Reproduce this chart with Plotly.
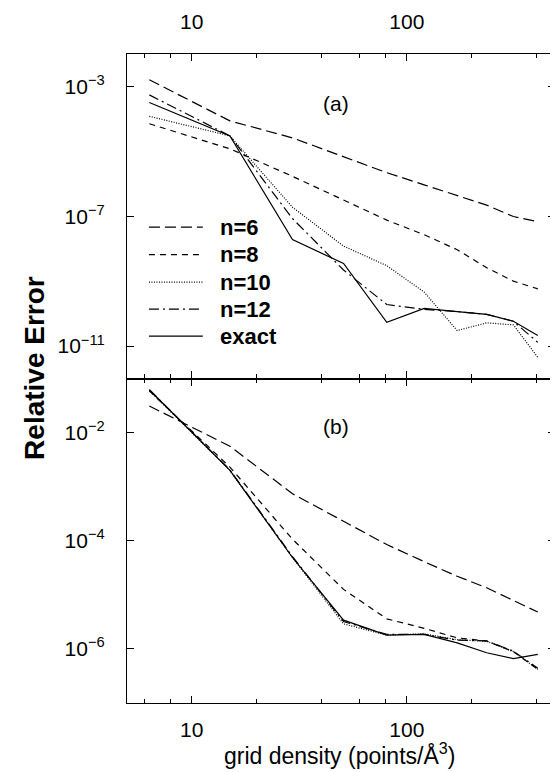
import plotly.graph_objects as go

# grid densities (points/Å^3)
density = [6.35, 15.05, 29.4, 50.8, 80.7, 120.4, 171.5, 235.2, 313.0, 406.4]

# panel (a)
a_n6 = [1.6e-3, 8.7e-5, 2.6e-5, 6.8e-6, 2.2e-6, 9.3e-7, 4.4e-7, 2.2e-7, 9.8e-8, 6.8e-8]
a_n8 = [7.1e-5, 1.2e-5, 1.7e-6, 3.2e-7, 7.6e-8, 2.7e-8, 9.3e-9, 2.6e-9, 1.0e-9, 5.8e-10]
a_n10 = [1.2e-4, 3.0e-5, 1.9e-7, 1.2e-8, 3.0e-9, 4.6e-10, 3.0e-11, 5.2e-11, 4.5e-11, 4.5e-12]
a_n12 = [5.5e-4, 3.0e-5, 8.5e-8, 2.2e-9, 1.9e-10, 1.35e-10, 1.15e-10, 9.5e-11, 5.8e-11, 1.3e-11]
a_exact = [3.2e-4, 3.0e-5, 1.9e-8, 3.5e-9, 5.4e-11, 1.45e-10, 1.15e-10, 9.5e-11, 5.8e-11, 2.1e-11]

# panel (b)
b_n6 = [3.1e-2, 5.6e-3, 7.4e-4, 2.3e-4, 8.5e-5, 4.1e-5, 2.2e-5, 1.35e-5, 7.8e-6, 4.8e-6]
b_n8 = [5.9e-2, 2.3e-3, 1.07e-4, 1.26e-5, 3.6e-6, 2.4e-6, 1.6e-6, 1.4e-6, 8.9e-7, 4.2e-7]
b_n10 = [6.0e-2, 2.0e-3, 4.9e-5, 2.9e-6, 1.8e-6, 1.9e-6, 1.48e-6, 1.38e-6, 8.9e-7, 4.2e-7]
b_n12 = [6.2e-2, 2.05e-3, 5.1e-5, 3.2e-6, 1.86e-6, 1.86e-6, 1.45e-6, 1.41e-6, 9.1e-7, 4.4e-7]
b_exact = [6.2e-2, 2.0e-3, 4.9e-5, 3.4e-6, 1.8e-6, 1.86e-6, 1.29e-6, 8.5e-7, 6.6e-7, 7.9e-7]

names = ["n=6", "n=8", "n=10", "n=12", "exact"]
dashes = ["11px,5px", "6px,5px", "1px,1.5px", "10px,4px,2px,4px", "solid"]

x_ticks = [10, 100]
x_ticktext = ["10", "100"]
x_minor = [6, 8, 20, 40, 60, 80, 200, 400]
ya_ticks = [1e-3, 1e-7, 1e-11]
ya_text = ["10<sup>−3</sup>", "10<sup>−7</sup>", "10<sup>−11</sup>"]
yb_ticks = [1e-2, 1e-4, 1e-6]
yb_text = ["10<sup>−2</sup>", "10<sup>−4</sup>", "10<sup>−6</sup>"]

FONT = "Liberation Sans, Arial, Helvetica, sans-serif"

# the page body has an 8px margin, so the figure is 8px smaller than the window
OFF = 8
W, H = 550, 764
ML, MR, MT, MB = 119, 2, 35, 69
PW, PH = W - ML - MR, H - MT - MB


def px_x(p):
    # screen pixel -> paper x
    return (p - OFF - ML) / PW


def px_y(p):
    # screen pixel -> paper y
    return (H - MB - (p - OFF)) / PH


fig = go.Figure()
for name, dash, ys in zip(names, dashes, [a_n6, a_n8, a_n10, a_n12, a_exact]):
    fig.add_trace(go.Scatter(x=density, y=ys, mode="lines", name=name,
                             line=dict(color="black", width=1.2, dash=dash),
                             xaxis="x2", yaxis="y2", showlegend=False))
for name, dash, ys in zip(names, dashes, [b_n6, b_n8, b_n10, b_n12, b_exact]):
    fig.add_trace(go.Scatter(x=density, y=ys, mode="lines", name=name,
                             line=dict(color="black", width=1.2, dash=dash),
                             xaxis="x", yaxis="y", showlegend=False))

axis_common = dict(showline=True, linecolor="black", linewidth=1.3, mirror="ticks",
                   ticks="inside", tickcolor="black", tickwidth=1.2, showgrid=False,
                   zeroline=False, tickfont=dict(family=FONT, size=21, color="black"))
xrange = [0.699, 2.689]
minor = dict(tickvals=x_minor, ticks="inside", ticklen=4, tickcolor="black",
             tickwidth=1.1, showgrid=False)

# manual legend (panel a, lower left)
legend_rows = [219, 247, 275, 302.5, 330]
shapes = []
annotations = []
for name, dash, ry in zip(names, dashes, legend_rows):
    shapes.append(dict(type="line", xref="paper", yref="paper",
                       x0=px_x(149), x1=px_x(203), y0=px_y(ry), y1=px_y(ry),
                       line=dict(color="black", width=1.2, dash=dash)))
    annotations.append(dict(text="<b>%s</b>" % name, x=px_x(218), y=px_y(ry),
                            xref="paper", yref="paper", xanchor="left", yanchor="middle",
                            showarrow=False,
                            font=dict(family=FONT, size=22, color="black")))

annotations += [
    dict(text="(a)", x=px_x(336), y=px_y(93), xref="paper", yref="paper",
         xanchor="center", yanchor="middle", showarrow=False,
         font=dict(family=FONT, size=21, color="black")),
    dict(text="(b)", x=px_x(336), y=px_y(422), xref="paper", yref="paper",
         xanchor="center", yanchor="middle", showarrow=False,
         font=dict(family=FONT, size=21, color="black")),
    dict(text="<b>Relative Error</b>", x=px_x(34), y=px_y(362), xref="paper", yref="paper",
         xanchor="center", yanchor="middle", textangle=-90, showarrow=False,
         font=dict(family=FONT, size=28, color="black")),
    dict(text="grid density (points/Å<sup>3</sup>)", x=px_x(340), y=px_y(755),
         xref="paper", yref="paper", xanchor="center", yanchor="middle", showarrow=False,
         font=dict(family=FONT, size=23, color="black")),
]

fig.update_layout(
    width=W, height=H,
    margin=dict(l=ML, r=MR, t=MT, b=MB),
    paper_bgcolor="white", plot_bgcolor="white",
    font=dict(family=FONT, color="black"),
    xaxis=dict(type="log", range=xrange, domain=[0, 1], anchor="y",
               tickvals=x_ticks, ticktext=x_ticktext, ticklen=7, minor=minor,
               ticklabelstandoff=8, **axis_common),
    xaxis2=dict(type="log", range=xrange, domain=[0, 1], anchor="y2", side="top",
                tickvals=x_ticks, ticktext=x_ticktext, ticklen=7, minor=minor,
                ticklabelstandoff=15, matches="x", **axis_common),
    yaxis=dict(type="log", range=[-7, -1], domain=[0, 0.5], anchor="x",
               tickvals=yb_ticks, ticktext=yb_text, ticklen=7,
               ticklabelstandoff=17, **axis_common),
    yaxis2=dict(type="log", range=[-12, -2], domain=[0.5, 1], anchor="x2",
                tickvals=ya_ticks, ticktext=ya_text, ticklen=7,
                ticklabelstandoff=17, **axis_common),
    showlegend=False,
    shapes=shapes,
    annotations=annotations,
)

fig.write_html("out.html")
